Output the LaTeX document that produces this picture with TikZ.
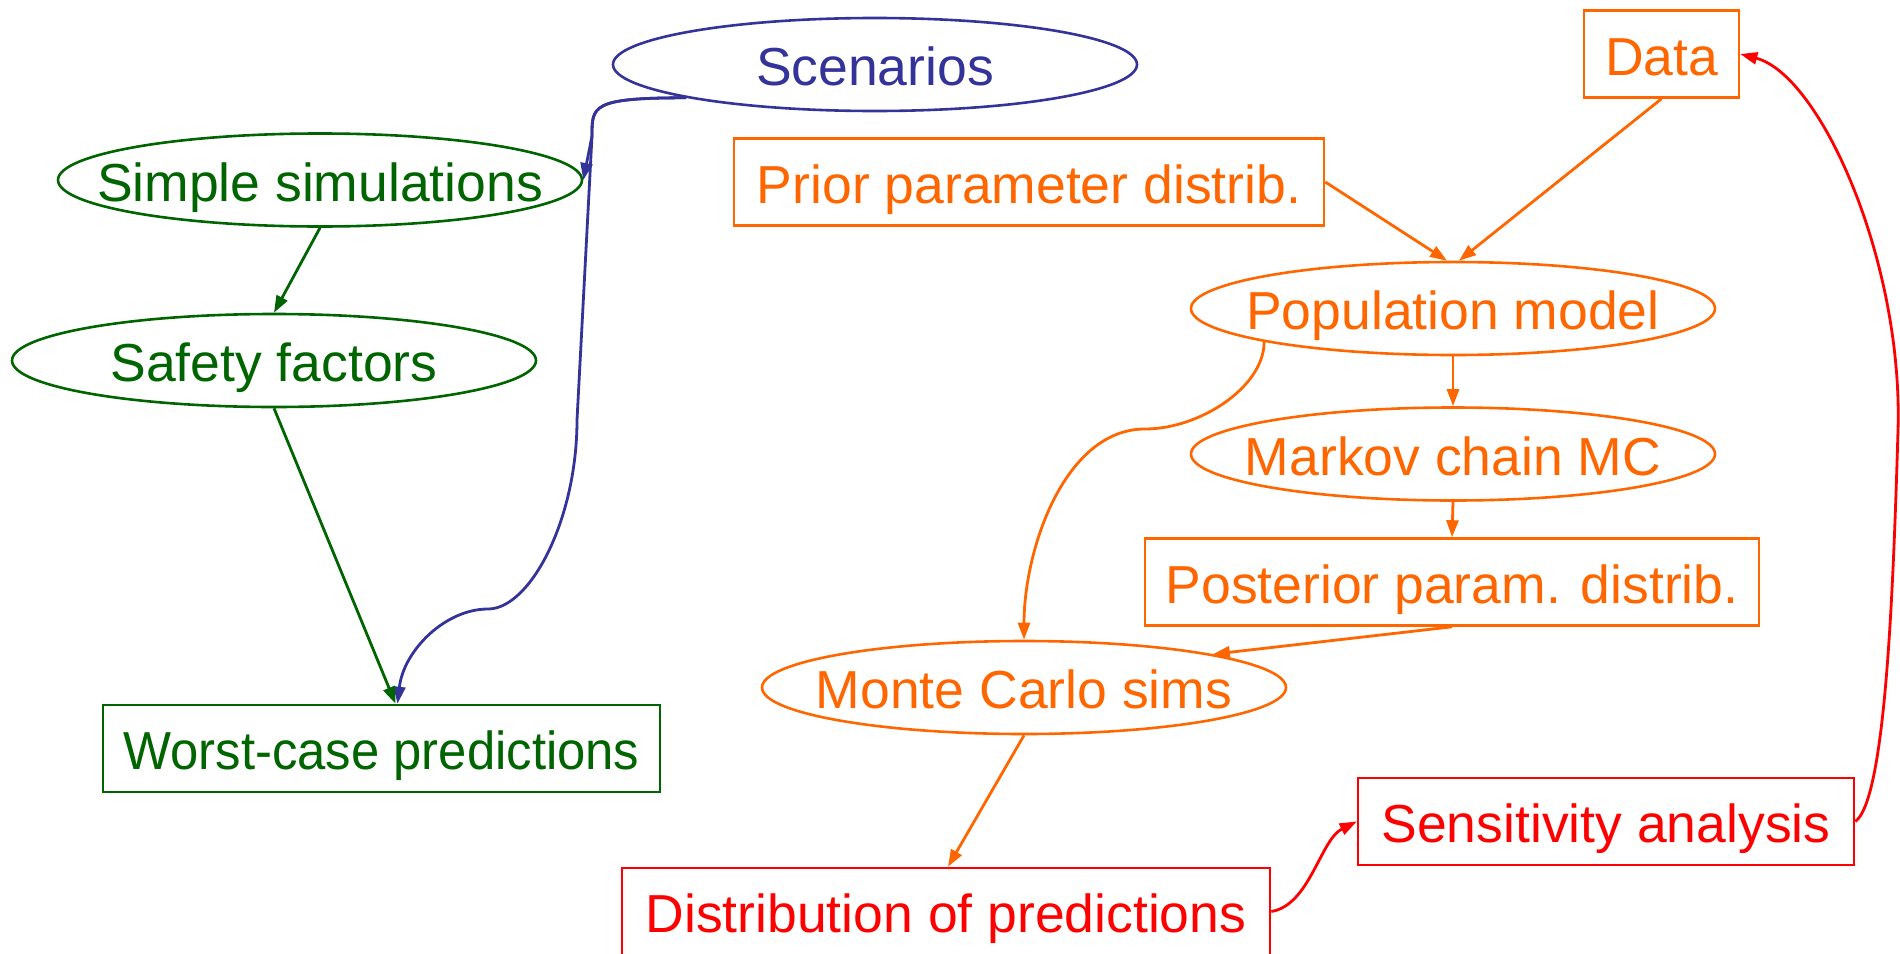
\documentclass[tikz,border=0pt]{standalone}
\usepackage{fontspec}
\setmainfont{Liberation Sans}
\usetikzlibrary{shapes.geometric,arrows.meta,calc}
\definecolor{cgreen}{RGB}{0,100,0}
\definecolor{cblue}{RGB}{51,51,153}
\definecolor{corange}{RGB}{255,102,0}
\definecolor{cred}{RGB}{255,0,0}
\newcommand\ztxt[1]{\makebox[0pt]{#1}}
\begin{document}
\begin{tikzpicture}[x=1pt,y=-1pt,
  base/.style={inner sep=0pt, line width=2.6pt, font=\fontsize{53.5}{60}\selectfont, text height=42pt, text depth=0pt},
  ell/.style={base, ellipse, draw, minimum width=524pt, minimum height=93pt},
  box/.style={base, rectangle, draw, minimum height=87pt},
  conn/.style={line width=2.8pt, -{Triangle[length=17pt,width=12pt]}}]
\useasboundingbox (0,0) rectangle (1900,953);
% nodes
\node[ell, color=cblue] (scen) at (875,64.5) {\ztxt{Scenarios}};
\node[ell, color=cgreen] (sim) at (320,180) {\ztxt{Simple simulations}};
\node[ell, color=cgreen] (safe) at (274,360.5) {\ztxt{Safety factors}};
\node[box, color=cgreen, minimum width=557pt] (worst) at (381.5,748.5) {\scalebox{0.95}[1]{Worst-case predictions}};
\node[box, color=corange, minimum width=590pt] (prior) at (1029,182) {Prior parameter distrib.};
\node[box, color=corange, minimum width=155pt] (data) at (1661.5,54) {Data};
\node[ell, color=corange] (pop) at (1453,308.5) {\ztxt{Population model}};
\node[ell, color=corange] (mcmc) at (1453,454) {\ztxt{Markov chain MC}};
\node[box, color=corange, minimum width=614pt] (post) at (1452,582) {Posterior param. distrib.};
\node[ell, color=corange] (mc) at (1024,687.5) {\ztxt{Monte Carlo sims}};
\node[box, color=cred, minimum width=648pt] (dist) at (946,911.5) {Distribution of predictions};
\node[box, color=cred, minimum width=496pt] (sens) at (1606,821.5) {Sensitivity analysis};
% helper coordinates
\coordinate (b1) at (592,136);
\coordinate (b2) at (577,420);
\coordinate (b3) at (488,609);
\coordinate (b4) at (1145,429);
\coordinate (b6) at (1898,430);
% blue connectors
\draw[conn, cblue] (scen.190) .. controls +(-95,0) and +(0,-30) .. (b1) -- (sim.east);
\draw[conn, cblue] (scen.190) .. controls +(-95,0) and +(0,-30) .. (b1) -- (b2)
   .. controls +(0,100) and +(42,0) .. (b3)
   .. controls +(-43,0) and +(6,-53) .. ([xshift=16pt]worst.north);
% green connectors
\draw[conn, cgreen] (sim.south) -- (safe.north);
\draw[conn, cgreen] (safe.south) -- ([xshift=14pt]worst.north);
% orange connectors
\draw[conn, corange] (prior.east) -- ([xshift=-6pt]pop.north);
\draw[conn, corange] (data.south) -- ([xshift=6pt]pop.north);
\draw[conn, corange] (pop.south) -- (mcmc.north);
\draw[conn, corange] (mcmc.south) -- (post.north);
\draw[conn, corange] (pop.190) .. controls +(0,45) and +(55,0) .. (b4)
   .. controls +(-80,0) and +(0,-91) .. (mc.north);
\draw[conn, corange] (post.south) -- (mc.10);
\draw[conn, corange] (mc.south) -- ([xshift=2pt]dist.north);
% red connectors
\draw[conn, cred] (dist.east) .. controls (1310,905) and (1320,840) .. (sens.west);
\draw[conn, cred] (sens.east) .. controls (1885,800) and (1893,600) .. (b6)
   .. controls (1903,260) and (1820,75) .. (data.east);
\end{tikzpicture}
\end{document}
